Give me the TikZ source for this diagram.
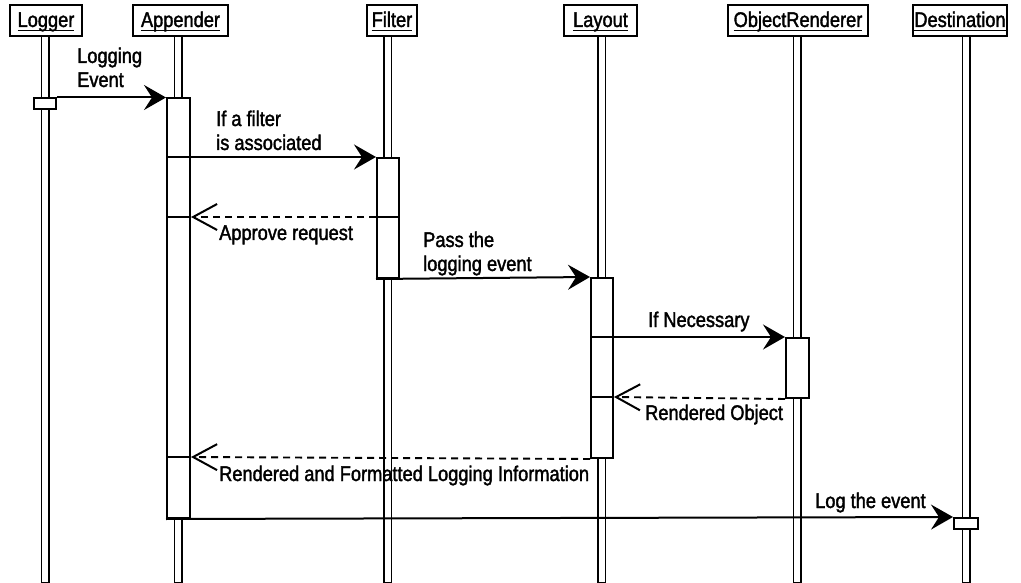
\documentclass[tikz,border=0pt]{standalone}
\usepackage{fontspec}
\setmainfont[FakeStretch=0.86, FakeBold=1.7]{Liberation Sans}
\usetikzlibrary{arrows.meta}

% object name, underlined as in UML object notation
\newcommand\uname[1]{\setbox0=\hbox{#1}\rlap{\rule[-4.2pt]{\wd0}{1.5pt}}\box0}

\tikzset{
  txt/.style={font=\fontsize{21.2}{24}\selectfont},
  header/.style={draw, line width=2pt, fill=white, txt, minimum height=31pt,
    inner sep=0pt, text height=14pt, text depth=1pt},
  lifeline/.style={draw, line width=1.5pt, fill=white},
  act/.style={draw, line width=2pt, fill=white, inner sep=0pt, anchor=north},
  seg/.style={line width=2pt},
  call/.style={line width=2pt, -{Stealth[length=22pt, width=25pt, inset=8pt]}},
  reply/.style={line width=1.9pt, dash pattern=on 7pt off 5pt,
    -{Straight Barb[length=24pt, width=26pt, line width=2pt]}},
  lbl/.style={txt, inner sep=0pt, anchor=base west, align=left},
}

\begin{document}
\begin{tikzpicture}[x=1pt, y=-1pt]
\useasboundingbox (0,0) rectangle (1021,583);

% object headers
\node[header, minimum width=72pt]  (hLog) at (46,20.5)   {\uname{Logger}};
\node[header, minimum width=95pt]  (hApp) at (180.5,20.5) {\uname{Appender}};
\node[header, minimum width=50pt]  (hFil) at (392,20.5)  {\uname{Filter}};
\node[header, minimum width=73pt]  (hLay) at (600.5,20.5) {\uname{Layout}};
\node[header, minimum width=140pt] (hObj) at (798,20.5)  {\uname{ObjectRenderer}};
\node[header, minimum width=94pt]  (hDst) at (960,20.5)  {\uname{Destination}};

% lifelines
\draw[lifeline] (41.6,36) rectangle (49.1,583);
\draw[lifeline] (174.7,36) rectangle (182.2,583);
\draw[lifeline] (384.2,36) rectangle (391.7,583);
\draw[lifeline] (598.2,36) rectangle (605.7,583);
\draw[lifeline] (793.7,36) rectangle (801.2,583);
\draw[lifeline] (962.5,36) rectangle (970,583);

% message rows
\coordinate (m1) at (0,97.5);
\coordinate (m2) at (0,157);
\coordinate (m3) at (0,217);
\coordinate (m4) at (0,277);
\coordinate (m5) at (0,337);
\coordinate (m6) at (0,397);
\coordinate (m7) at (0,457);
\coordinate (m8) at (0,517);

% activation bars
\node[act, minimum width=22pt, minimum height=10.5pt]  (logA) at (45,97.5) {};
\node[act, minimum width=23pt, minimum height=419.5pt] (appA) at (178.5,97.5) {};
\node[act, minimum width=22pt, minimum height=120pt]   (filA) at (388,157) {};
\node[act, minimum width=22pt, minimum height=180pt]   (layA) at (602,277) {};
\node[act, minimum width=23pt, minimum height=60pt]    (objA) at (797.5,337) {};
\node[act, minimum width=24pt, minimum height=11pt]    (dstA) at (966,517) {};

% messages
\draw[call] (logA.north east) -- (appA.north west);
\node[lbl] (l1) at (77,87) {Logging\\Event};

\draw[call] (appA.west |- m2) -- (filA.north west);
\node[lbl] (l2) at (216,150) {If a filter\\is associated};

\draw[seg] (filA.west |- m3) -- (filA.east |- m3);
\draw[reply] (filA.west |- m3) -- (appA.east |- m3);
\draw[seg] (appA.east |- m3) -- (appA.west |- m3);
\node[lbl] (l3) at (219,240) {Approve request};

\draw[call] (filA.south west) -- (layA.north west);
\node[lbl] (l4) at (423,271) {Pass the\\logging event};

\draw[call] (layA.west |- m5) -- (objA.north west);
\node[lbl] (l5) at (648,327) {If Necessary};

\draw[reply] (objA.south west) -- (layA.east |- m6);
\draw[seg] (layA.east |- m6) -- (layA.west |- m6);
\node[lbl] (l6) at (645,420) {Rendered Object};

\draw[reply] (layA.south west) -- (appA.east |- m7);
\draw[seg] (appA.east |- m7) -- (appA.west |- m7);
\node[lbl] (l7) at (219,481) {Rendered and Formatted Logging Information};

\draw[call] (appA.south west) -- (dstA.north west);
\node[lbl] (l8) at (815,508) {Log the event};
\end{tikzpicture}
\end{document}
